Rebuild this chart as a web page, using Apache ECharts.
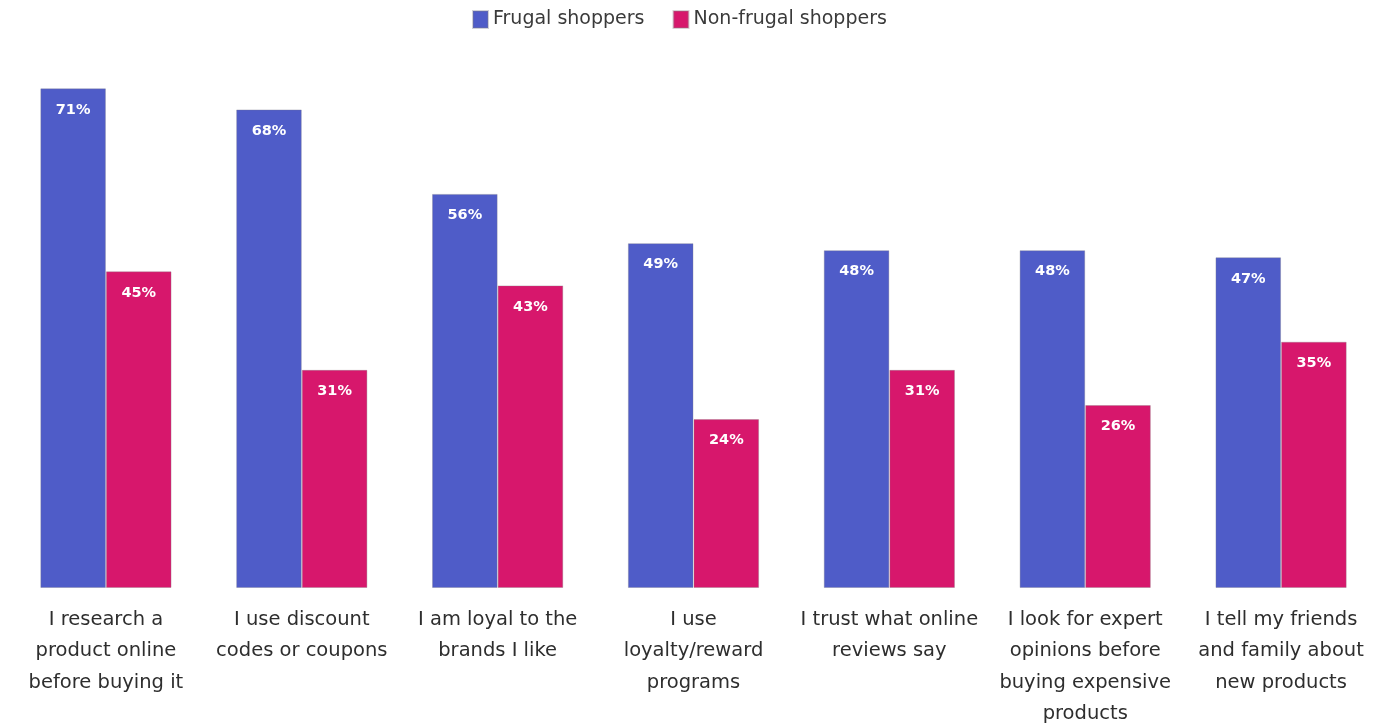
<!DOCTYPE html>
<html>
<head>
<meta charset="utf-8">
<script src="https://cdn.jsdelivr.net/npm/echarts@6/dist/echarts.min.js"></script>
<style>
  html, body { margin: 0; padding: 0; background: #ffffff; }
  #chart { width: 1399px; height: 727px; }
</style>
</head>
<body>
<div id="chart"></div>
<script>
// Shopping behaviours, share of respondents (%)
const categories = [
  'I research a\nproduct online\nbefore buying it',
  'I use discount\ncodes or coupons',
  'I am loyal to the\nbrands I like',
  'I use\nloyalty/reward\nprograms',
  'I trust what online\nreviews say',
  'I look for expert\nopinions before\nbuying expensive\nproducts',
  'I tell my friends\nand family about\nnew products'
];
const frugal = [71, 68, 56, 49, 48, 48, 47];
const nonFrugal = [45, 31, 43, 24, 31, 26, 35];

const BLUE = '#4f5cc8';
const PINK = '#d7176c';
const FONT = '"DejaVu Sans", "Noto Sans", sans-serif';

const valueLabel = {
  show: true,
  position: 'insideTop',
  distance: 14,
  formatter: '{c}%',
  color: '#ffffff',
  fontFamily: FONT,
  fontWeight: 'bold',
  fontSize: 14.5
};

const chart = echarts.init(document.getElementById('chart'), null, { renderer: 'canvas' });
chart.setOption({
  animation: false,
  backgroundColor: '#ffffff',
  legend: {
    top: 5,
    left: 467,
    itemWidth: 15,
    itemHeight: 17,
    itemGap: 28,
    icon: 'rect',
    textStyle: { fontFamily: FONT, fontSize: 19, color: '#3a3a3a' },
    data: ['Frugal shoppers', 'Non-frugal shoppers']
  },
  grid: { left: 8, right: 20, top: 25, bottom: 139, containLabel: false, outerBoundsMode: 'none' },
  xAxis: {
    type: 'category',
    data: categories,
    axisLine: { show: false },
    axisTick: { show: false },
    axisLabel: {
      interval: 0,
      margin: 16,
      fontFamily: FONT,
      fontSize: 19.5,
      lineHeight: 31.5,
      color: '#2e2e2e',
      align: 'center',
      verticalAlign: 'top'
    }
  },
  yAxis: {
    type: 'value',
    min: 0,
    max: 80,
    show: false,
    splitLine: { show: false }
  },
  series: [
    {
      name: 'Frugal shoppers',
      type: 'bar',
      data: frugal,
      barGap: '0%',
      barCategoryGap: '33%',
      itemStyle: { color: BLUE, borderColor: 'rgba(120,120,140,0.35)', borderWidth: 1 },
      label: valueLabel
    },
    {
      name: 'Non-frugal shoppers',
      type: 'bar',
      data: nonFrugal,
      itemStyle: { color: PINK, borderColor: 'rgba(140,120,130,0.35)', borderWidth: 1 },
      label: valueLabel
    }
  ]
});
</script>
</body>
</html>
